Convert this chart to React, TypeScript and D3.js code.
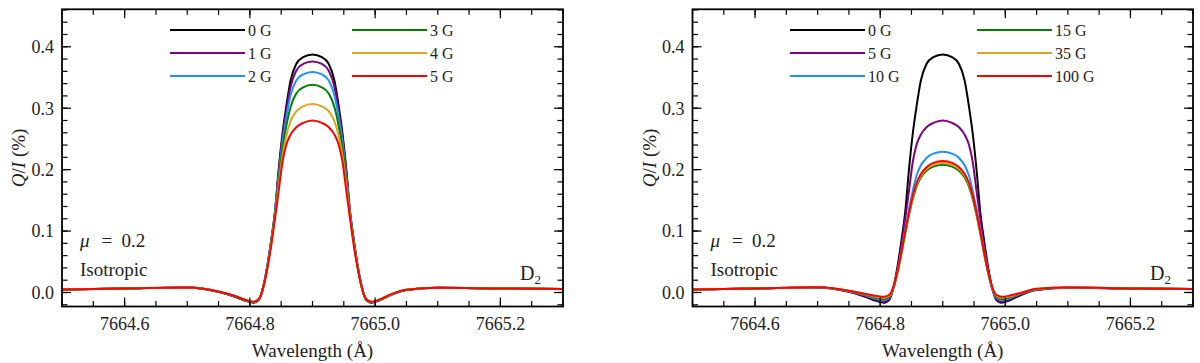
import React from 'react';
import * as d3 from 'd3';

// Wavelength grid (Å)
const wavelength = [
  7664.50, 7664.60, 7664.70, 7664.75, 7664.775, 7664.795, 7664.806, 7664.815,
  7664.822, 7664.828, 7664.834, 7664.840, 7664.846, 7664.852, 7664.858, 7664.865, 7664.874, 7664.885, 7664.900,
  7664.915, 7664.926, 7664.935, 7664.942, 7664.948, 7664.954, 7664.960, 7664.966, 7664.972, 7664.978,
  7664.985, 7664.994, 7665.005, 7665.025, 7665.05, 7665.10, 7665.20, 7665.30,
];

// Q/I (%) for each field strength
const q0G = [0.005, 0.0065, 0.008, 0.001, -0.0065, -0.014, -0.0165, -0.011,
  0.012, 0.044, 0.085, 0.131, 0.200, 0.258, 0.302, 0.345, 0.372, 0.383, 0.3875,
  0.383, 0.372, 0.345, 0.302, 0.258, 0.200, 0.131, 0.085, 0.044, 0.012,
  -0.011, -0.0165, -0.0135, -0.004, 0.004, 0.0078, 0.0065, 0.0055];
const q1G = [0.005, 0.0065, 0.008, 0.001, -0.0063, -0.0138, -0.0162, -0.0107,
  0.012, 0.043, 0.084, 0.130, 0.196, 0.252, 0.294, 0.335, 0.361, 0.372, 0.376,
  0.372, 0.361, 0.335, 0.294, 0.252, 0.196, 0.130, 0.084, 0.043, 0.012,
  -0.0107, -0.0162, -0.0133, -0.0038, 0.0041, 0.0078, 0.0065, 0.0055];
const q2G = [0.005, 0.0065, 0.008, 0.0012, -0.006, -0.0135, -0.016, -0.0104,
  0.012, 0.043, 0.083, 0.128, 0.190, 0.244, 0.284, 0.321, 0.345, 0.355, 0.359,
  0.355, 0.345, 0.321, 0.284, 0.244, 0.190, 0.128, 0.083, 0.043, 0.012,
  -0.0104, -0.016, -0.013, -0.0036, 0.0042, 0.0078, 0.0065, 0.0055];
const q3G = [0.005, 0.0065, 0.008, 0.0013, -0.0058, -0.0133, -0.0157, -0.0102,
  0.011, 0.042, 0.081, 0.126, 0.183, 0.234, 0.270, 0.302, 0.324, 0.334, 0.338,
  0.334, 0.324, 0.302, 0.270, 0.234, 0.183, 0.126, 0.081, 0.042, 0.011,
  -0.0102, -0.0157, -0.0128, -0.0034, 0.0043, 0.0078, 0.0065, 0.0055];
const q4G = [0.005, 0.0065, 0.0081, 0.0014, -0.0055, -0.013, -0.0154, -0.0099,
  0.011, 0.041, 0.079, 0.123, 0.174, 0.222, 0.254, 0.279, 0.295, 0.303, 0.307,
  0.303, 0.295, 0.279, 0.254, 0.222, 0.174, 0.123, 0.079, 0.041, 0.011,
  -0.0099, -0.0154, -0.0125, -0.0032, 0.0044, 0.0078, 0.0065, 0.0055];
const q5G = [0.005, 0.0065, 0.0082, 0.0015, -0.0053, -0.0127, -0.015, -0.0095,
  0.011, 0.040, 0.076, 0.120, 0.165, 0.212, 0.240, 0.257, 0.269, 0.276, 0.280,
  0.276, 0.269, 0.257, 0.240, 0.212, 0.165, 0.120, 0.076, 0.040, 0.011,
  -0.0095, -0.015, -0.0122, -0.003, 0.0045, 0.0078, 0.0065, 0.0055];
const q10G = [0.005, 0.0065, 0.0083, 0.002, -0.004, -0.0105, -0.0125, -0.0075,
  0.010, 0.036, 0.068, 0.103, 0.135, 0.165, 0.190, 0.207, 0.219, 0.226, 0.229,
  0.226, 0.219, 0.207, 0.190, 0.165, 0.135, 0.103, 0.068, 0.036, 0.010,
  -0.0075, -0.0125, -0.010, -0.002, 0.005, 0.0079, 0.0066, 0.0055];
const q15G = [0.005, 0.0066, 0.0084, 0.0023, -0.0033, -0.0088, -0.0105, -0.006,
  0.010, 0.034, 0.064, 0.096, 0.126, 0.152, 0.172, 0.187, 0.198, 0.205, 0.208,
  0.205, 0.198, 0.187, 0.172, 0.152, 0.126, 0.096, 0.064, 0.034, 0.010,
  -0.006, -0.0105, -0.0085, -0.0015, 0.0053, 0.008, 0.0066, 0.0055];
const q35G = [0.005, 0.0066, 0.0085, 0.0026, -0.0026, -0.0072, -0.0087, -0.0045,
  0.011, 0.035, 0.065, 0.098, 0.128, 0.155, 0.175, 0.190, 0.201, 0.208, 0.211,
  0.208, 0.201, 0.190, 0.175, 0.155, 0.128, 0.098, 0.065, 0.035, 0.011,
  -0.0045, -0.0087, -0.007, -0.001, 0.0056, 0.008, 0.0066, 0.0055];
const q100G = [0.005, 0.0067, 0.0086, 0.003, -0.002, -0.0058, -0.007, -0.0033,
  0.012, 0.036, 0.066, 0.099, 0.130, 0.157, 0.178, 0.193, 0.204, 0.211, 0.214,
  0.211, 0.204, 0.193, 0.178, 0.157, 0.130, 0.099, 0.066, 0.036, 0.012,
  -0.0033, -0.007, -0.0055, -0.0005, 0.006, 0.0081, 0.0067, 0.0056];

const leftLabels = ['0 G', '1 G', '2 G', '3 G', '4 G', '5 G'];
const leftSeries = [q0G, q1G, q2G, q3G, q4G, q5G];
const rightLabels = ['0 G', '5 G', '10 G', '15 G', '35 G', '100 G'];
const rightSeries = [q0G, q5G, q10G, q15G, q35G, q100G];
const colors = ['#000000', '#800080', '#1e90ff', '#008000', '#daa520', '#ff0000'];

const xMajor = [7664.6, 7664.8, 7665.0, 7665.2];
const xTickLabels = ['7664.6', '7664.8', '7665.0', '7665.2'];
const yMajor = [0.0, 0.1, 0.2, 0.3, 0.4];
const yTickLabels = ['0.0', '0.1', '0.2', '0.3', '0.4'];
const xMinor = d3.range(0, 17).map((i) => 7664.5 + i * 0.05);
const yMinor = d3.range(-1, 24).map((i) => i * 0.02);

const xDomain = [7664.5, 7665.3];
const yDomain = [-0.0228, 0.461];

const FONT = "'Liberation Serif', 'Times New Roman', Tinos, 'DejaVu Serif', 'Noto Serif', Times, serif";
const TOP = 9.3;
const BOTTOM = 306.5;

const txt = (size: number, extra: React.CSSProperties = {}): React.CSSProperties => ({
  fontFamily: FONT,
  fontSize: size,
  fill: '#222',
  ...extra,
});

type PanelProps = {
  id: string;
  x0: number;
  x1: number;
  labels: string[];
  series: number[][];
  legendCols: [number, number];
};

function Panel({ id, x0, x1, labels, series, legendCols }: PanelProps) {
  const x = d3.scaleLinear().domain(xDomain).range([x0, x1]);
  const y = d3.scaleLinear().domain(yDomain).range([BOTTOM, TOP]);
  const line = (vals: number[]) =>
    d3
      .line<number>()
      .x((_, i) => x(wavelength[i]))
      .y((v) => y(v))
      .curve(d3.curveMonotoneX)(vals) || '';

  const major = 9;
  const minor = 5.5;
  const rowY = [30, 53, 76];
  const lineLen = 75;

  return (
    <g>
      <defs>
        <clipPath id={id}>
          <rect x={x0} y={TOP} width={x1 - x0} height={BOTTOM - TOP} />
        </clipPath>
      </defs>
      <g clipPath={`url(#${id})`}>
        {series.map((s, i) => (
          <path key={i} d={line(s)} fill="none" stroke={colors[i]} strokeWidth={2} strokeLinejoin="round" />
        ))}
      </g>
      <g stroke="#000" strokeWidth={1.2}>
        {xMinor.map((v, i) => (
          <g key={'xm' + i}>
            <line x1={x(v)} x2={x(v)} y1={BOTTOM} y2={BOTTOM - minor} />
            <line x1={x(v)} x2={x(v)} y1={TOP} y2={TOP + minor} />
          </g>
        ))}
        {xMajor.map((v, i) => (
          <g key={'xM' + i}>
            <line x1={x(v)} x2={x(v)} y1={BOTTOM} y2={BOTTOM - major} />
            <line x1={x(v)} x2={x(v)} y1={TOP} y2={TOP + major} />
          </g>
        ))}
        {yMinor.map((v, i) => (
          <g key={'ym' + i}>
            <line x1={x0} x2={x0 + minor} y1={y(v)} y2={y(v)} />
            <line x1={x1} x2={x1 - minor} y1={y(v)} y2={y(v)} />
          </g>
        ))}
        {yMajor.map((v, i) => (
          <g key={'yM' + i}>
            <line x1={x0} x2={x0 + major} y1={y(v)} y2={y(v)} />
            <line x1={x1} x2={x1 - major} y1={y(v)} y2={y(v)} />
          </g>
        ))}
      </g>
      <rect x={x0} y={TOP} width={x1 - x0} height={BOTTOM - TOP} fill="none" stroke="#000" strokeWidth={1.8} />
      {xMajor.map((v, i) => (
        <text key={'xl' + i} x={x(v)} y={330} textAnchor="middle" style={txt(18)}>
          {xTickLabels[i]}
        </text>
      ))}
      {yMajor.map((v, i) => (
        <text key={'yl' + i} x={x0 - 8} y={y(v)} dy="0.35em" textAnchor="end" style={txt(18)}>
          {yTickLabels[i]}
        </text>
      ))}
      <text x={(x0 + x1) / 2} y={357} textAnchor="middle" style={txt(19)}>
        Wavelength (Å)
      </text>
      <text
        transform={`translate(${x0 - 37},${(TOP + BOTTOM) / 2}) rotate(-90)`}
        textAnchor="middle"
        style={txt(19)}
      >
        <tspan style={{ fontStyle: 'italic' }}>Q</tspan>/<tspan style={{ fontStyle: 'italic' }}>I</tspan> (%)
      </text>
      {labels.map((lab, i) => {
        const col = i < 3 ? 0 : 1;
        const row = i % 3;
        const lx = x0 + legendCols[col];
        return (
          <g key={'lg' + i}>
            <line x1={lx} x2={lx + lineLen} y1={rowY[row]} y2={rowY[row]} stroke={colors[i]} strokeWidth={2} />
            <text x={lx + lineLen + 3} y={rowY[row]} dy="0.35em" style={txt(16)}>
              {lab}
            </text>
          </g>
        );
      })}
      <text y={247} style={txt(19)}>
        <tspan x={x0 + 18} style={{ fontStyle: 'italic' }}>μ</tspan>
        <tspan x={x0 + 39.5}>=</tspan>
        <tspan x={x0 + 59.5}>0.2</tspan>
      </text>
      <text x={x0 + 18} y={276} style={txt(19)}>
        Isotropic
      </text>
      <text x={x1 - 43} y={280} style={txt(20)}>
        D<tspan style={{ fontSize: 13 }} dy={4}>2</tspan>
      </text>
    </g>
  );
}

export default function App() {
  return (
    <svg
      width={1200}
      height={363}
      viewBox="0 0 1200 363"
      style={{ position: 'absolute', left: 0, top: 0, background: '#fff' }}
    >
      <rect width={1200} height={363} fill="#fff" />
      <Panel id="clipL" x0={62} x1={563} labels={leftLabels} series={leftSeries} legendCols={[108, 290]} />
      <Panel id="clipR" x0={692.5} x1={1193} labels={rightLabels} series={rightSeries} legendCols={[97.5, 284.5]} />
    </svg>
  );
}
